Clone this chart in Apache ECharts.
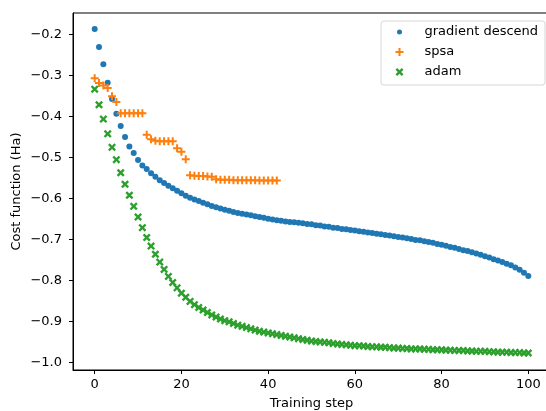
<!DOCTYPE html>
<html>
<head>
<meta charset="utf-8">
<script src="https://cdn.jsdelivr.net/npm/echarts@6/dist/echarts.min.js"></script>
<style>html,body{margin:0;padding:0;background:#fff;}#chart{width:546px;height:411px;}</style>
</head>
<body>
<div id="chart"></div>
<script>
// ---- data ----
const gradientDescend = [
  -0.186,-0.230,-0.272,-0.317,-0.357,-0.393,-0.423,-0.450,-0.473,-0.489,
  -0.506,-0.519,-0.528,-0.538,-0.547,-0.555,-0.562,-0.569,-0.575,-0.581,
  -0.587,-0.593,-0.598,-0.602,-0.606,-0.610,-0.614,-0.618,-0.621,-0.624,
  -0.627,-0.630,-0.633,-0.635,-0.637,-0.639,-0.641,-0.643,-0.645,-0.647,
  -0.649,-0.651,-0.653,-0.654,-0.656,-0.657,-0.658,-0.659,-0.660,-0.662,
  -0.663,-0.665,-0.666,-0.668,-0.669,-0.671,-0.672,-0.674,-0.675,-0.677,
  -0.678,-0.680,-0.681,-0.683,-0.684,-0.686,-0.687,-0.689,-0.690,-0.692,
  -0.694,-0.695,-0.697,-0.699,-0.701,-0.702,-0.704,-0.706,-0.708,-0.711,
  -0.713,-0.715,-0.718,-0.720,-0.723,-0.726,-0.728,-0.731,-0.734,-0.737,
  -0.741,-0.744,-0.748,-0.751,-0.755,-0.759,-0.763,-0.768,-0.774,-0.781,
  -0.789
];
const spsa = [
  -0.306,-0.318,-0.324,-0.330,-0.350,-0.364,-0.392,-0.392,-0.392,-0.392,
  -0.392,-0.392,-0.444,-0.455,-0.459,-0.460,-0.460,-0.460,-0.460,-0.477,
  -0.486,-0.504,-0.543,-0.544,-0.545,-0.545,-0.546,-0.547,-0.553,-0.554,
  -0.554,-0.554,-0.555,-0.555,-0.555,-0.555,-0.555,-0.555,-0.556,-0.556,
  -0.556,-0.556,-0.556
];
const adam = [
  -0.333,-0.371,-0.406,-0.442,-0.475,-0.505,-0.537,-0.565,-0.592,-0.619,
  -0.645,-0.671,-0.695,-0.716,-0.736,-0.755,-0.773,-0.790,-0.805,-0.818,
  -0.831,-0.841,-0.851,-0.859,-0.866,-0.872,-0.878,-0.884,-0.889,-0.894,
  -0.898,-0.901,-0.905,-0.909,-0.912,-0.915,-0.918,-0.921,-0.924,-0.926,
  -0.928,-0.930,-0.932,-0.934,-0.936,-0.938,-0.940,-0.942,-0.944,-0.946,
  -0.948,-0.949,-0.950,-0.951,-0.952,-0.954,-0.955,-0.956,-0.957,-0.958,
  -0.959,-0.959,-0.960,-0.961,-0.962,-0.962,-0.963,-0.963,-0.964,-0.965,
  -0.965,-0.966,-0.966,-0.967,-0.967,-0.967,-0.968,-0.968,-0.969,-0.969,
  -0.969,-0.970,-0.970,-0.971,-0.971,-0.971,-0.972,-0.972,-0.973,-0.973,
  -0.973,-0.974,-0.974,-0.975,-0.975,-0.975,-0.976,-0.976,-0.976,-0.977,
  -0.977
];
const seriesNames = ['gradient descend', 'spsa', 'adam'];
const xTicks = [0, 20, 40, 60, 80, 100];
const yTicks = [-1.0, -0.9, -0.8, -0.7, -0.6, -0.5, -0.4, -0.3, -0.2];
const xLabel = 'Training step';
const yLabel = 'Cost function (Ha)';

// ---- styles ----
const colors = ['#1f77b4', '#ff7f0e', '#2ca02c'];
const plusPath = 'path://M0,3.75H3.75V0H6.25V3.75H10V6.25H6.25V10H3.75V6.25H0Z';
const xPath = 'path://M0,2.1L2.1,0L5,2.9L7.9,0L10,2.1L7.1,5L10,7.9L7.9,10L5,7.1L2.1,10L0,7.9L2.9,5Z';
const FONT = 'DejaVu Sans';
const toPairs = arr => arr.map((v, i) => [i, v]);
const fmtY = v => (v < 0 ? '\u2212' : '') + Math.abs(v).toFixed(1);

const chart = echarts.init(document.getElementById('chart'), null, {renderer: 'canvas'});
chart.setOption({
  animation: false,
  backgroundColor: '#fff',
  grid: {left: 73, top: 13, width: 477, height: 357, containLabel: false, outerBoundsMode: 'none',
         show: true, borderColor: '#000', borderWidth: 1, backgroundColor: 'transparent'},
  xAxis: {
    type: 'value', min: -5, max: 105,
    name: xLabel, nameLocation: 'middle', nameGap: 27,
    nameTextStyle: {fontFamily: FONT, fontSize: 13, color: '#000'},
    axisLine: {show: true, onZero: false, lineStyle: {color: '#000', width: 1}},
    axisTick: {show: true, length: 4, lineStyle: {color: '#000'}, customValues: xTicks},
    axisLabel: {fontFamily: FONT, fontSize: 13, color: '#000', margin: 8, customValues: xTicks},
    splitLine: {show: false}
  },
  yAxis: {
    type: 'value', min: -1.0185, max: -0.147,
    name: yLabel, nameLocation: 'middle', nameGap: 50, nameRotate: 90, nameMoveOverlap: false,
    nameTextStyle: {fontFamily: FONT, fontSize: 13, color: '#000'},
    axisLine: {show: true, onZero: false, lineStyle: {color: '#000', width: 1}},
    axisTick: {show: true, length: 4, lineStyle: {color: '#000'}, customValues: yTicks},
    axisLabel: {fontFamily: FONT, fontSize: 13, color: '#000', margin: 11, customValues: yTicks, formatter: fmtY},
    splitLine: {show: false}
  },
  legend: {
    orient: 'vertical', left: 381, top: 21,
    padding: [4, 7, 6, 13],
    itemWidth: 8, itemHeight: 8, itemGap: 6,
    backgroundColor: '#fff', borderColor: '#d6d6d6', borderWidth: 1, borderRadius: 3,
    textStyle: {fontFamily: FONT, fontSize: 13, color: '#000', lineHeight: 14, padding: [0, 0, 0, 16]},
    data: [
      {name: seriesNames[0], icon: 'circle', itemStyle: {color: colors[0], borderColor: '#fff', borderWidth: 3}},
      {name: seriesNames[1], icon: plusPath},
      {name: seriesNames[2], icon: xPath}
    ]
  },
  series: [
    {name: seriesNames[0], type: 'scatter', data: toPairs(gradientDescend), symbol: 'circle', symbolSize: 6, itemStyle: {color: colors[0], opacity: 1}},
    {name: seriesNames[1], type: 'scatter', data: toPairs(spsa), symbol: plusPath, symbolSize: 8, itemStyle: {color: colors[1], opacity: 1}},
    {name: seriesNames[2], type: 'scatter', data: toPairs(adam), symbol: xPath, symbolSize: 8, itemStyle: {color: colors[2], opacity: 1}}
  ]
});
</script>
</body>
</html>
